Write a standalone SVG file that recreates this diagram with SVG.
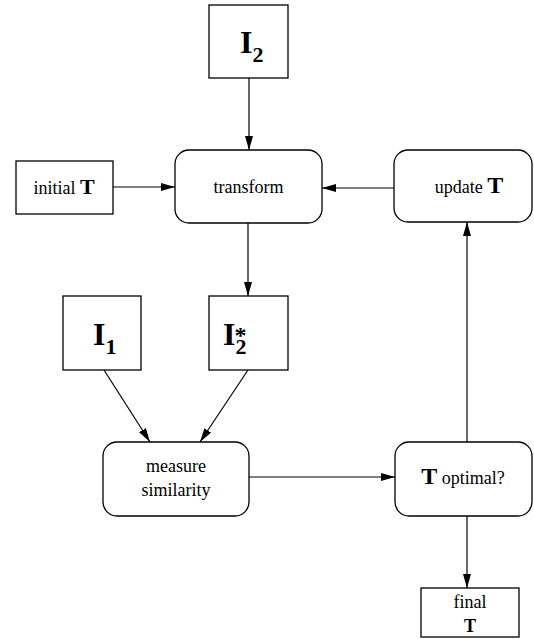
<svg xmlns="http://www.w3.org/2000/svg" width="534" height="639" viewBox="0 0 534 639">
<style>
.box{fill:#fff;stroke:#000;stroke-width:1.3}
.t{font-family:"Liberation Serif","Times New Roman",serif;font-size:18px;fill:#000;text-anchor:middle}
.b{font-weight:bold}
.big{font-family:"Liberation Serif","Times New Roman",serif;font-weight:bold;fill:#000}
.c{stroke:#000;stroke-width:1.2;fill:none;marker-end:url(#ah)}
</style>
<defs>
<marker id="ah" markerUnits="userSpaceOnUse" markerWidth="16" markerHeight="10" refX="14" refY="4" orient="auto">
<path d="M0,0 L14,4 L0,8 Z" fill="#000"/>
</marker>
</defs>
<rect width="534" height="639" fill="#fff"/>
<g id="connectors">
<line class="c" x1="249" y1="78" x2="249" y2="150"/>
<line class="c" x1="113" y1="187" x2="175" y2="187"/>
<line class="c" x1="394" y1="188" x2="322" y2="188"/>
<line class="c" x1="248" y1="223" x2="248" y2="296"/>
<line class="c" x1="104" y1="370" x2="150" y2="442"/>
<line class="c" x1="248" y1="370" x2="200" y2="442"/>
<line class="c" x1="249" y1="477" x2="395" y2="477"/>
<line class="c" x1="467" y1="442" x2="467" y2="222"/>
<line class="c" x1="467" y1="516" x2="467" y2="588"/>
</g>
<g id="I2">
<rect class="box" x="209" y="5" width="79" height="73"/>
<text class="big" x="240" y="53" font-size="32">I<tspan font-size="22" dy="9">2</tspan></text>
</g>
<g id="initialT">
<rect class="box" x="16" y="161" width="97" height="53"/>
<text class="t" x="64" y="194">initial <tspan class="b" font-size="22">T</tspan></text>
</g>
<g id="transform">
<rect class="box" x="175" y="150" width="147" height="73" rx="14"/>
<text class="t" x="248.5" y="193">transform</text>
</g>
<g id="updateT">
<rect class="box" x="394" y="150" width="138" height="72" rx="14"/>
<text class="t" x="469" y="193">update <tspan class="b" font-size="24">T</tspan></text>
</g>
<g id="I1">
<rect class="box" x="63" y="296" width="78" height="74"/>
<text class="big" x="93" y="345" font-size="32">I<tspan font-size="22" dy="9">1</tspan></text>
</g>
<g id="I2star">
<rect class="box" x="209" y="296" width="79" height="74"/>
<text class="big" x="223" y="345" font-size="32">I<tspan font-size="22" dy="9">2</tspan><tspan font-size="24" dx="-12" dy="-11">*</tspan></text>
</g>
<g id="measure">
<rect class="box" x="103" y="442" width="146" height="74" rx="14"/>
<text class="t" x="176" y="472">measure</text>
<text class="t" x="176" y="496">similarity</text>
</g>
<g id="Toptimal">
<rect class="box" x="395" y="442" width="137" height="74" rx="14"/>
<text class="t" x="463" y="484"><tspan class="b" font-size="24">T</tspan> optimal?</text>
</g>
<g id="finalT">
<rect class="box" x="421" y="588" width="98" height="49"/>
<text class="t" x="470" y="608">final</text>
<text class="t b" x="470" y="632" font-size="24">T</text>
</g>
</svg>
